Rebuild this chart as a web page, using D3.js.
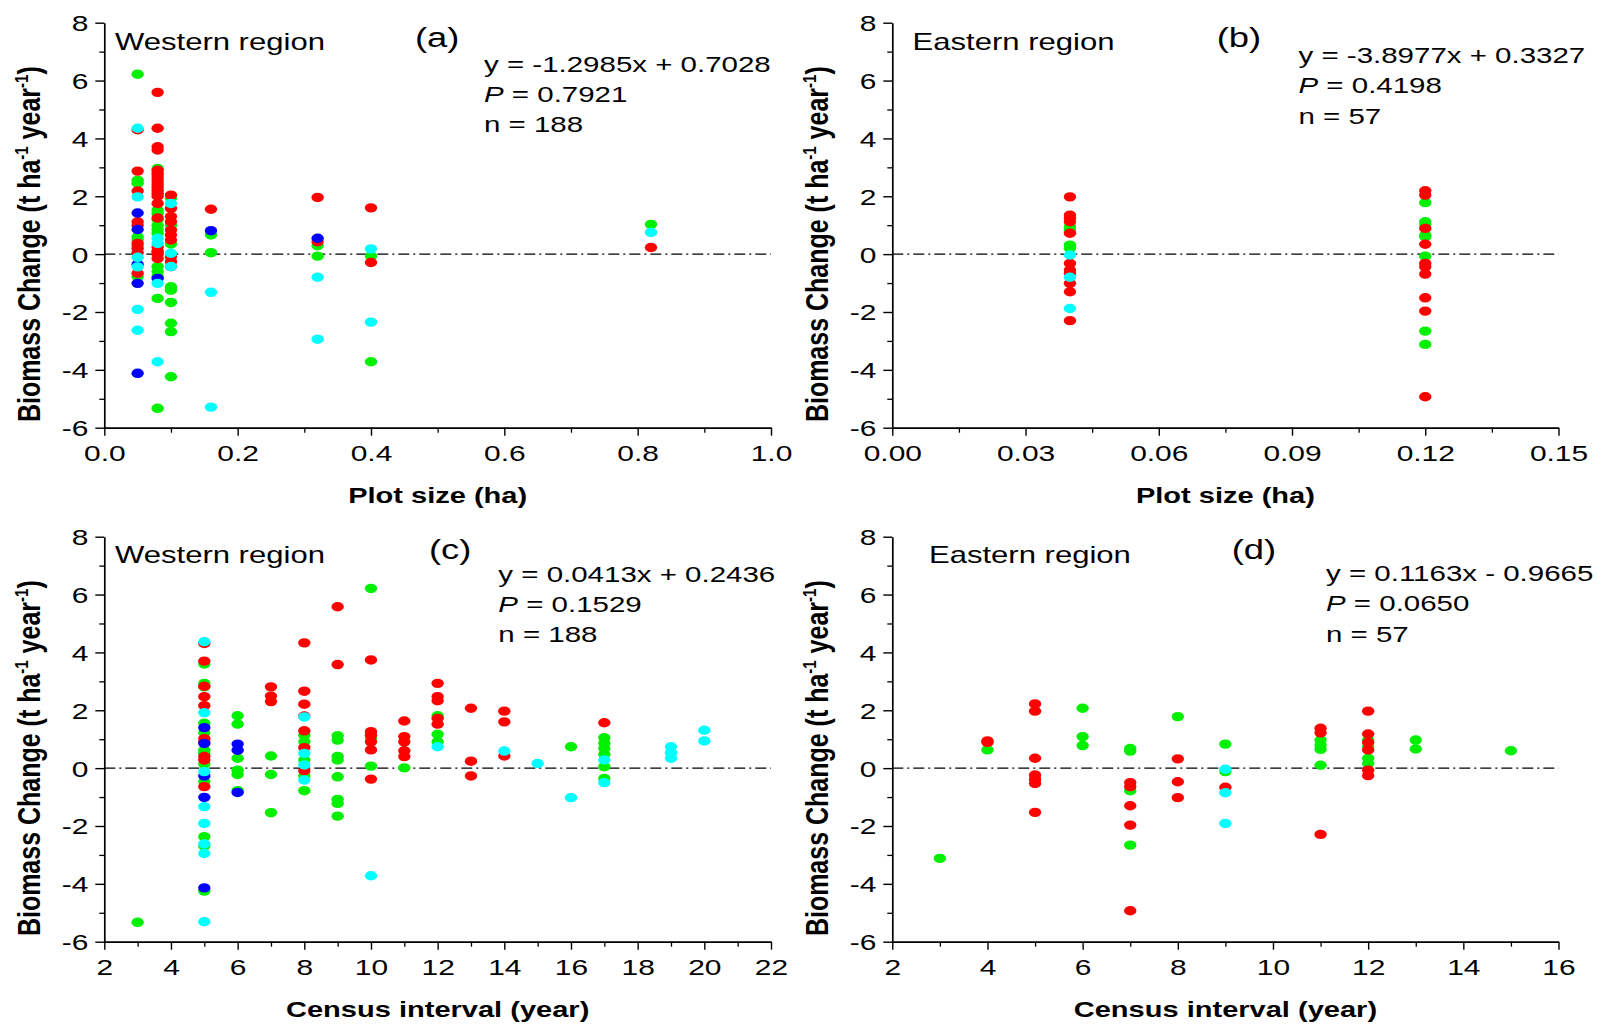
<!DOCTYPE html>
<html><head><meta charset="utf-8">
<script src="https://cdn.jsdelivr.net/npm/d3@7"></script>
<style>
body{margin:0;background:#fff}
svg{display:block}
text{font-family:"Liberation Sans",Arial,Helvetica,sans-serif}
</style>
</head><body>
<svg id="chart" width="1599" height="1024"></svg>
<script>
// ---------------- DATA ----------------
// Panel (a): Western region, plot size (ha) vs biomass change
const aRed = [[0.05,4.30],[0.05,2.87],[0.05,2.18],[0.05,1.12],[0.05,1.0],[0.05,0.37],[0.05,0.2],[0.05,0.05],[0.05,-0.66],
  [0.08,5.59],[0.08,4.35],[0.08,3.71],[0.08,3.6],[0.08,2.9],[0.08,2.8],[0.08,2.7],[0.08,2.6],[0.08,2.5],[0.08,2.4],[0.08,2.3],[0.08,2.2],[0.08,2.1],[0.08,2.0],[0.08,1.75],[0.08,1.25],[0.08,0.25],[0.08,0.1],[0.08,0.0],[0.08,-0.15],
  [0.10,2.04],[0.10,1.58],[0.10,1.3],[0.10,1.12],[0.10,0.83],[0.10,0.66],[0.10,0.49],[0.10,-0.09],[0.10,-0.26],[0.10,-0.43],
  [0.16,1.55],[0.32,1.96],[0.32,0.43],[0.40,1.6],[0.40,-0.29],[0.82,0.23]];
const aGreen = [[0.05,6.22],[0.05,2.55],[0.05,2.45],[0.05,0.6],[0.05,0.49],[0.05,0.3],[0.05,-0.78],
  [0.08,2.96],[0.08,1.52],[0.08,1.4],[0.08,1.2],[0.08,1.0],[0.08,0.85],[0.08,0.72],[0.08,0.1],[0.08,-0.43],[0.08,-0.6],[0.08,-0.78],[0.08,-1.53],[0.08,-5.33],
  [0.10,1.93],[0.10,1.0],[0.10,0.35],[0.10,-1.13],[0.10,-1.25],[0.10,-1.67],[0.10,-2.39],[0.10,-2.68],[0.10,-4.24],
  [0.16,0.66],[0.16,0.05],[0.32,0.29],[0.32,-0.07],[0.40,-0.07],[0.40,-3.72],[0.82,1.03]];
const aBlue = [[0.05,1.42],[0.05,0.85],[0.05,-0.35],[0.05,-1.01],[0.05,-4.12],[0.08,-0.84],[0.16,0.81],[0.32,0.55]];
const aCyan = [[0.05,4.35],[0.05,1.98],[0.05,-0.11],[0.05,-0.44],[0.05,-1.91],[0.05,-2.63],
  [0.08,0.55],[0.08,0.37],[0.08,-1.01],[0.08,-3.72],[0.10,1.75],[0.10,0.03],[0.10,-0.43],
  [0.16,-1.32],[0.16,-5.29],[0.32,-0.80],[0.32,-2.94],[0.40,0.18],[0.40,-2.35],[0.82,0.75]];

// Panel (b): Eastern region, plot size (ha)
const bRed = [[0.04,1.98],[0.04,1.35],[0.04,1.24],[0.04,1.12],[0.04,0.72],[0.04,-0.32],[0.04,-0.55],[0.04,-0.66],[0.04,-1.01],[0.04,-1.3],[0.04,-2.3],
  [0.12,2.19],[0.12,2.04],[0.12,0.89],[0.12,0.34],[0.12,-0.32],[0.12,-0.44],[0.12,-0.69],[0.12,-1.51],[0.12,-1.97],[0.12,-4.93]];
const bGreen = [[0.04,0.95],[0.04,0.85],[0.04,0.78],[0.04,0.31],[0.04,0.2],
  [0.12,1.78],[0.12,1.12],[0.12,1.03],[0.12,0.66],[0.12,0.6],[0.12,-0.07],[0.12,-2.66],[0.12,-3.12]];
const bBlue = [];
const bCyan = [[0.04,-0.03],[0.04,-0.80],[0.04,-1.88]];

// Panel (c): Western region, census interval (year)
const cRed = [[5,4.31],[5,3.7],[5,2.83],[5,2.47],[5,2.16],[5,1.02],[5,0.91],[5,0.40],[5,0.28],[5,-0.64],
  [7,2.81],[7,2.49],[7,2.3],[8,4.33],[8,2.66],[8,2.21],[8,1.8],[8,1.29],[8,0.71],[8,-0.09],
  [9,5.58],[9,3.58],[10,3.74],[10,1.26],[10,1.14],[10,0.91],[10,0.63],[10,-0.38],
  [11,1.63],[11,1.09],[11,0.91],[11,0.60],[11,0.40],[12,2.93],[12,2.47],[12,2.33],[12,1.72],[12,1.52],
  [13,2.07],[13,0.24],[13,-0.27],[14,1.97],[14,1.6],[14,0.42],[17,1.57]];
const cGreen = [[3,-5.33],[5,3.6],[5,2.93],[5,2.81],[5,1.55],[5,1.22],[5,0.62],[5,0.51],[5,0.14],[5,-0.47],[5,-2.37],[5,-2.69],[5,-4.25],
  [6,1.81],[6,1.52],[6,0.34],[6,-0.07],[6,-0.22],[6,-0.78],[7,0.42],[7,-0.22],[7,-1.54],
  [8,1.14],[8,0.91],[8,0.28],[8,-0.27],[8,-0.78],[9,1.12],[9,0.97],[9,0.4],[9,0.28],[9,-0.3],[9,-1.08],[9,-1.22],[9,-1.66],
  [10,6.21],[10,1.05],[10,0.07],[11,0.01],[12,1.81],[12,1.17],[12,0.91],[16,0.74],
  [17,1.05],[17,0.86],[17,0.68],[17,0.48],[17,0.05],[17,-0.36]];
const cBlue = [[5,1.4],[5,0.85],[5,-0.27],[5,-1.01],[5,-4.14],[6,0.83],[6,0.62],[6,-0.84]];
const cCyan = [[5,4.37],[5,1.92],[5,-0.12],[5,-1.33],[5,-1.91],[5,-2.62],[5,-2.95],[5,-5.31],
  [8,1.77],[8,0.51],[8,0.11],[8,-0.41],[10,-3.72],[12,0.74],[14,0.59],[15,0.16],[16,-1.02],
  [17,0.28],[17,-0.5],[19,0.74],[19,0.53],[19,0.34],[20,1.31],[20,0.94]];

// Panel (d): Eastern region, census interval (year)
const dRed = [[4,0.94],[4,0.89],[5,2.22],[5,1.97],[5,0.34],[5,-0.24],[5,-0.39],[5,-0.53],[5,-1.53],
  [7,-0.5],[7,-0.64],[7,-1.30],[7,-1.97],[7,-4.93],[8,0.32],[8,-0.47],[8,-1.02],[9,-0.66],
  [11,1.38],[11,1.22],[11,-2.29],[12,1.97],[12,1.18],[12,0.89],[12,0.63],[12,-0.07],[12,-0.26]];
const dGreen = [[3,-3.12],[4,0.63],[6,2.07],[6,1.09],[6,0.78],[7,0.68],[7,0.59],[7,-0.78],[7,-2.66],
  [8,1.78],[9,0.83],[9,-0.12],[11,0.97],[11,0.80],[11,0.65],[11,0.1],[12,0.97],[12,0.74],[12,0.34],[12,0.16],
  [13,0.97],[13,0.66],[15,0.6]];
const dBlue = [];
const dCyan = [[9,-0.04],[9,-0.85],[9,-1.91]];

// Tick values / labels
const yMajor = [-6,-4,-2,0,2,4,6,8];
const yMinor = [-5,-3,-1,1,3,5,7];
const aTicks = [0,0.2,0.4,0.6,0.8,1.0];
const aMinor = [0.1,0.3,0.5,0.7,0.9];
const bTicks = [0,0.03,0.06,0.09,0.12,0.15];
const bMinor = [0.015,0.045,0.075,0.105,0.135];
const cTicks = [2,4,6,8,10,12,14,16,18,20,22];
const cMinor = [3,5,7,9,11,13,15,17,19,21];
const dTicks = [2,4,6,8,10,12,14,16];
const dMinor = [3,5,7,9,11,13,15];

const seriesColors = {green:"#00f000", red:"#ff0000", blue:"#0000ff", cyan:"#00ffff"};

// ---------------- LAYOUT ----------------
const SX = 1.33; // horizontal stretch of all lettering in the original figure
const panels = [
  {tag:"(a)", region:"Western region", xl:104.3, xr:771, yt:22.7, yb:427.7, dom:[0,1], ticks:aTicks, minor:aMinor, fmt:d => d.toFixed(1),
   xLabel:"Plot size (ha)", eq:["y = -1.2985x + 0.7028","0.7921","n = 188"], data:{green:aGreen, red:aRed, blue:aBlue, cyan:aCyan},
   regionPos:[115,50], tagPos:[415,46.7], eqPos:[484,71.7]},
  {tag:"(b)", region:"Eastern region", xl:892.3, xr:1558.5, yt:22.7, yb:427.7, dom:[0,0.15], ticks:bTicks, minor:bMinor, fmt:d => d.toFixed(2),
   xLabel:"Plot size (ha)", eq:["y = -3.8977x + 0.3327","0.4198","n = 57"], data:{green:bGreen, red:bRed, blue:bBlue, cyan:bCyan},
   regionPos:[912.6,50], tagPos:[1216.7,46.7], eqPos:[1298.5,63.3]},
  {tag:"(c)", region:"Western region", xl:104.3, xr:771, yt:536.7, yb:941.7, dom:[2,22], ticks:cTicks, minor:cMinor, fmt:d => String(d),
   xLabel:"Census interval (year)", eq:["y = 0.0413x + 0.2436","0.1529","n = 188"], data:{green:cGreen, red:cRed, blue:cBlue, cyan:cCyan},
   regionPos:[115,563.3], tagPos:[429,559], eqPos:[498.3,581.7]},
  {tag:"(d)", region:"Eastern region", xl:892.3, xr:1558.5, yt:536.7, yb:941.7, dom:[2,16], ticks:dTicks, minor:dMinor, fmt:d => String(d),
   xLabel:"Census interval (year)", eq:["y = 0.1163x - 0.9665","0.0650","n = 57"], data:{green:dGreen, red:dRed, blue:dBlue, cyan:dCyan},
   regionPos:[929,562.7], tagPos:[1231.7,559], eqPos:[1326,581]}
];

const svg = d3.select("#chart");
svg.append("rect").attr("width",1599).attr("height",1024).attr("fill","#fff");

function txt(g, x, y, s, size, opts={}) {
  const t = g.append("text")
    .attr("transform", `translate(${x},${y}) scale(${opts.sx||SX},1)` + (opts.rot ? ` rotate(${opts.rot})` : ""))
    .attr("font-size", size)
    .attr("font-weight", opts.weight || "normal")
    .attr("text-anchor", opts.anchor || "start")
    .attr("fill", "#000");
  if (s !== null) t.text(s);
  return t;
}

panels.forEach(p => {
  const g = svg.append("g");
  const x = d3.scaleLinear().domain(p.dom).range([p.xl, p.xr]);
  const y = d3.scaleLinear().domain([-6, 8]).range([p.yb, p.yt]);

  // zero reference line
  g.append("line").attr("x1", x(p.dom[0])).attr("x2", x(p.dom[1]))
    .attr("y1", y(0)).attr("y2", y(0))
    .attr("stroke", "#000").attr("stroke-width", 1.3)
    .attr("stroke-dasharray", "11,4,2,4");

  // minor ticks
  g.append("g").attr("transform", `translate(0,${p.yb})`)
    .call(d3.axisBottom(x).tickValues(p.minor).tickSize(5).tickFormat(""))
    .call(a => { a.select(".domain").remove(); a.selectAll(".tick line").attr("stroke-width", 1.3); });
  g.append("g").attr("transform", `translate(${p.xl},0)`)
    .call(d3.axisLeft(y).tickValues(yMinor).tickSize(5).tickFormat(""))
    .call(a => { a.select(".domain").remove(); a.selectAll(".tick line").attr("stroke-width", 1.3); });

  // major axes
  const gx = g.append("g").attr("transform", `translate(0,${p.yb})`)
    .call(d3.axisBottom(x).tickValues(p.ticks).tickSize(8).tickSizeOuter(0).tickFormat(p.fmt));
  gx.attr("font-size", 22).attr("font-family", '"Liberation Sans",Arial,sans-serif');
  gx.select(".domain").attr("stroke-width", 1.7);
  gx.selectAll(".tick line").attr("stroke-width", 1.4);
  gx.selectAll(".tick text").attr("y", 0).attr("dy", null).attr("fill", "#000")
    .attr("transform", `translate(0,33) scale(1.36,1)`);

  const gy = g.append("g").attr("transform", `translate(${p.xl},0)`)
    .call(d3.axisLeft(y).tickValues(yMajor).tickSize(9).tickSizeOuter(0).tickFormat(d => String(d)));
  gy.attr("font-size", 22).attr("font-family", '"Liberation Sans",Arial,sans-serif');
  gy.select(".domain").attr("stroke-width", 1.7);
  gy.selectAll(".tick text").attr("x", 0).attr("dy", null).attr("fill", "#000")
    .attr("transform", `translate(-16,8) scale(1.36,1)`);
  gy.selectAll(".tick line").attr("stroke-width", 1.4);

  // points
  ["green","red","blue","cyan"].forEach(k => {
    g.append("g").selectAll("ellipse").data(p.data[k]).join("ellipse")
      .attr("cx", d => x(d[0])).attr("cy", d => y(d[1]))
      .attr("rx", 6.2).attr("ry", 4.7)
      .attr("fill", seriesColors[k]);
  });

  // axis titles
  txt(g, (p.xl + p.xr) / 2, p.yb + 75, p.xLabel, 22, {weight:"bold", anchor:"middle", sx:1.32});
  const yl = txt(g, p.xl - 64, (p.yt + p.yb) / 2 + 19, null, 25, {weight:"bold", anchor:"middle", sx:1.28, rot:-90});
  yl.append("tspan").text("Biomass Change (t ha");
  yl.append("tspan").attr("font-size", 15).attr("dy", -10).text("-1");
  yl.append("tspan").attr("dy", 10).text(" year");
  yl.append("tspan").attr("font-size", 15).attr("dy", -10).text("-1");
  yl.append("tspan").attr("dy", 10).text(")");

  // annotations
  txt(g, p.regionPos[0], p.regionPos[1], p.region, 23, {sx:1.35});
  txt(g, p.tagPos[0], p.tagPos[1], p.tag, 28, {sx:1.3});
  txt(g, p.eqPos[0], p.eqPos[1], p.eq[0], 22.5, {sx:1.31});
  const pt = txt(g, p.eqPos[0], p.eqPos[1] + 30, null, 22.5, {sx:1.31});
  pt.append("tspan").attr("font-style", "italic").text("P");
  pt.append("tspan").text(" = " + p.eq[1]);
  txt(g, p.eqPos[0], p.eqPos[1] + 60.5, p.eq[2], 22.5, {sx:1.31});
});
</script>
</body></html>
